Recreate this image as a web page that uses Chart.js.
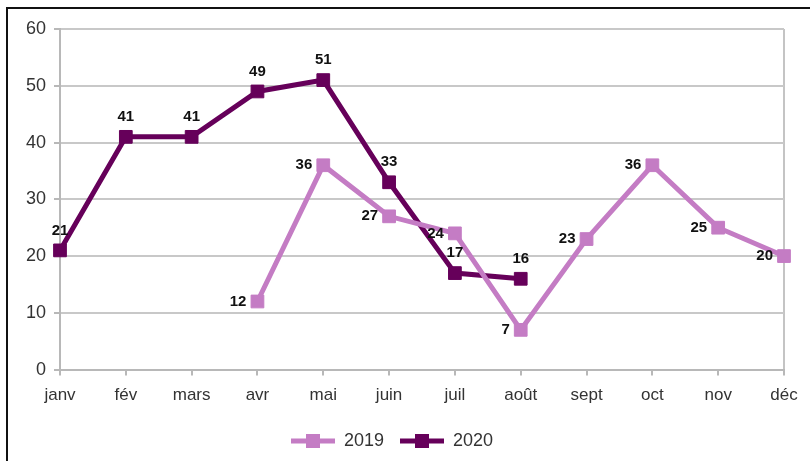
<!DOCTYPE html>
<html>
<head>
<meta charset="utf-8">
<script src="https://cdn.jsdelivr.net/npm/chart.js@4/dist/chart.umd.min.js"></script>
<style>
  html, body { margin: 0; padding: 0; background: #fff; }
  #wrap { width: 810px; height: 461px; position: relative; }
</style>
</head>
<body>
<div id="wrap"><canvas id="chart"></canvas></div>
<script>
// monthly values, null where the year has no figure
const months = ['janv', 'fév', 'mars', 'avr', 'mai', 'juin', 'juil', 'août', 'sept', 'oct', 'nov', 'déc'];
const values2019 = [null, null, null, 12, 36, 27, 24, 7, 23, 36, 25, 20];
const values2020 = [21, 41, 41, 49, 51, 33, 17, 16, null, null, null, null];
const yTicks = [0, 10, 20, 30, 40, 50, 60];

const color2019 = '#c47cc4';
const color2020 = '#66005a';

// legend marker: a thick line with a square in the middle
function legendMarker(color) {
    const c = document.createElement('canvas');
    c.width = 44;
    c.height = 14;
    const g = c.getContext('2d');
    g.fillStyle = color;
    g.fillRect(0, 4.5, 44, 5);
    g.fillRect(15, 0, 14, 14);
    return c;
}

// white background and the black frame around the picture
const framePlugin = {
    id: 'frame',
    beforeDraw(chart) {
        const ctx = chart.ctx;
        ctx.save();
        ctx.fillStyle = '#fff';
        ctx.fillRect(0, 0, chart.width, chart.height);
        ctx.strokeStyle = '#111';
        ctx.lineWidth = 2;
        ctx.strokeRect(7, 8, chart.width + 20, chart.height + 20);
        ctx.restore();
    }
};

// value labels: 2019 to the left of the point, 2020 above it
const valueLabels = {
    id: 'valueLabels',
    afterDatasetsDraw(chart) {
        const ctx = chart.ctx;
        ctx.save();
        ctx.font = 'bold 15px "Liberation Sans", Arial, sans-serif';
        ctx.fillStyle = '#111';
        ctx.textBaseline = 'middle';
        chart.data.datasets.forEach((ds, i) => {
            const meta = chart.getDatasetMeta(i);
            meta.data.forEach((pt, j) => {
                const v = ds.data[j];
                if (v === null) return;
                if (i === 0) {
                    ctx.textAlign = 'right';
                    ctx.fillText(String(v), pt.x - 11, pt.y);
                } else {
                    ctx.textAlign = 'center';
                    ctx.fillText(String(v), pt.x, pt.y - 20);
                }
            });
        });
        ctx.restore();
    }
};

const ctx = document.getElementById('chart').getContext('2d');

new Chart(ctx, {
    type: 'line',
    data: {
        labels: months,
        datasets: [{
            label: '2019',
            data: values2019,
            borderColor: color2019,
            backgroundColor: color2019,
            borderWidth: 5,
            pointStyle: 'rect',
            pointRadius: 9,
            pointHoverRadius: 9,
            pointBorderWidth: 1,
            tension: 0,
            spanGaps: false
        },
        {
            label: '2020',
            data: values2020,
            borderColor: color2020,
            backgroundColor: color2020,
            borderWidth: 5,
            pointStyle: 'rect',
            pointRadius: 9,
            pointHoverRadius: 9,
            pointBorderWidth: 1,
            tension: 0,
            spanGaps: false
        }]
    },
    options: {
        responsive: true,
        maintainAspectRatio: false,
        animation: false,
        layout: {
            padding: { top: 29, right: 26, left: 0, bottom: 1 }
        },
        scales: {
            x: {
                offset: false,
                grid: {
                    color: c => (c.index === months.length - 1 ? '#c4c4c4' : 'transparent'),
                    tickColor: '#b8b8b8',
                    lineWidth: 2,
                    tickLength: 6
                },
                border: { display: true, color: '#b8b8b8', width: 2 },
                ticks: {
                    color: '#333',
                    padding: 10,
                    maxRotation: 0,
                    font: { family: '"Liberation Sans", Arial, sans-serif', size: 17 }
                }
            },
            y: {
                min: 0,
                max: 60,
                afterBuildTicks: s => { s.ticks = yTicks.map(v => ({ value: v })); },
                afterFit: s => { s.width = 60; },
                grid: {
                    color: '#c8c8c8',
                    tickColor: '#b8b8b8',
                    lineWidth: 2,
                    tickLength: 6
                },
                border: { display: true, color: '#b8b8b8', width: 2 },
                ticks: {
                    color: '#333',
                    padding: 8,
                    font: { family: '"Liberation Sans", Arial, sans-serif', size: 18 }
                }
            }
        },
        plugins: {
            legend: {
                position: 'bottom',
                labels: {
                    usePointStyle: true,
                    pointStyleWidth: 44,
                    padding: 16,
                    color: '#333',
                    font: { family: '"Liberation Sans", Arial, sans-serif', size: 18 },
                    generateLabels: chart => {
                        const items = Chart.defaults.plugins.legend.labels.generateLabels(chart);
                        items.forEach(it => {
                            it.pointStyle = legendMarker(chart.data.datasets[it.datasetIndex].borderColor);
                        });
                        return items;
                    }
                }
            },
            tooltip: { enabled: false }
        }
    },
    plugins: [framePlugin, valueLabels]
});
</script>
</body>
</html>
